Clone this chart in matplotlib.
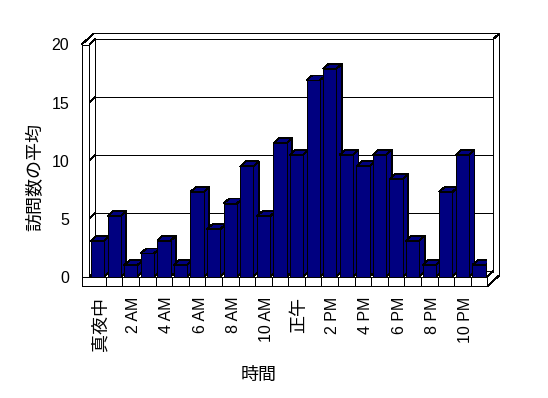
import matplotlib
matplotlib.use('Agg')
import matplotlib.pyplot as plt
from matplotlib.patches import Polygon, Rectangle
from matplotlib.transforms import ScaledTranslation
import numpy as np

# average visits per hour (0:00 .. 23:00)
visits = [3.1, 5.2, 1.0, 2.0, 3.1, 1.0, 7.3, 4.1, 6.3, 9.5, 5.2, 11.5,
          10.5, 16.9, 17.9, 10.5, 9.5, 10.5, 8.4, 3.1, 1.0, 7.3, 10.5, 1.0]
tick_labels = ['真夜中', '2 AM', '4 AM', '6 AM', '8 AM', '10 AM',
               '正午', '2 PM', '4 PM', '6 PM', '8 PM', '10 PM']
y_ticks = [0, 5, 10, 15, 20]

NAVY = '#000080'
LW = 0.6
D_IN = (6, 5.5)     # depth of inner back wall, pixels
D_OUT = (12, 11)    # depth of outer back wall
D_BAR = (5.5, 5)    # depth of the bars
WALL = 0.46         # left wall thickness, data units
FLOOR = 0.83        # floor thickness, data units

plt.rcParams['font.family'] = ['Liberation Sans', 'Noto Sans CJK JP']
plt.rcParams['lines.antialiased'] = False
plt.rcParams['patch.antialiased'] = False

fig = plt.figure(figsize=(5.48, 3.98), dpi=100)
ax = fig.add_axes([89.3 / 548, 121.3 / 398, 398 / 548, 232.2 / 398])
n = len(visits)
ax.set_xlim(0, n)
ax.set_ylim(0, 20)
for s in ax.spines.values():
    s.set_visible(False)


def shifted(x, y, d):
    px = ax.transData.transform((x, y)) + np.array(d)
    return tuple(ax.transData.inverted().transform(px))


def line(p, q, z=1):
    ax.plot([p[0], q[0]], [p[1], q[1]], color='black', lw=LW,
            zorder=z, clip_on=False, solid_capstyle='butt')


# back wall: gridlines and edges
for v in y_ticks:
    line(shifted(0, v, D_IN), shifted(n, v, D_IN))
line(shifted(0, 0, D_IN), shifted(0, 20, D_IN))
line(shifted(n, 0, D_IN), shifted(n, 20, D_IN))
line(shifted(-WALL, 20, D_OUT), shifted(n, 20, D_OUT))
line(shifted(n, -FLOOR, D_OUT), shifted(n, 20, D_OUT))
line(shifted(n, 20, D_IN), shifted(n, 20, D_OUT))
line(shifted(n, 0, D_IN), (n, 0))
line(shifted(n, -FLOOR, D_OUT), (n, -FLOOR))
line((-WALL, 20), shifted(-WALL, 20, D_OUT))
line((0, 20), shifted(0, 20, D_IN))

# left wall ticks
for v in y_ticks:
    line((-WALL, v), (0, v), z=2)
    line((0, v), shifted(0, v, D_IN), z=2)

# left wall and floor front faces
ax.add_patch(Rectangle((-WALL, -FLOOR), WALL, 20 + FLOOR, facecolor='white',
                       edgecolor='black', lw=LW, zorder=2, clip_on=False))
ax.add_patch(Rectangle((-WALL, -FLOOR), n + WALL, FLOOR, facecolor='white',
                       edgecolor='black', lw=LW, zorder=2, clip_on=False))
for i in range(1, n):
    line((i, -FLOOR), (i, 0), z=2.5)
line((-WALL, 0), (0, 0), z=2.5)

# bars with top and side faces
x = np.arange(n) + 0.1
bars = ax.bar(x, visits, width=0.8, align='edge', color=NAVY,
              edgecolor='black', lw=LW)
for i, b in enumerate(bars):
    x0, w, h = b.get_x(), b.get_width(), b.get_height()
    z = 3 + i * 0.01
    b.set_zorder(z + 0.005)
    top = [(x0, h), (x0 + w, h), shifted(x0 + w, h, D_BAR), shifted(x0, h, D_BAR)]
    side = [(x0 + w, 0), shifted(x0 + w, 0, D_BAR), shifted(x0 + w, h, D_BAR), (x0 + w, h)]
    for pts in (top, side):
        ax.add_patch(Polygon(pts, closed=True, facecolor=NAVY, edgecolor='black',
                             lw=LW, zorder=z))

# ticks and labels
ax.set_yticks(y_ticks)
ax.set_xticks(np.arange(0, n, 2) + 0.5)
ax.set_xticklabels(tick_labels)
ax.tick_params(axis='y', length=0, pad=14.4, labelsize=11.5)
ax.tick_params(axis='x', length=0, pad=14.4, labelsize=11.5, rotation=90)
for lab in ax.get_xticklabels():
    lab.set_transform(lab.get_transform() + ScaledTranslation(0.03, 0, fig.dpi_scale_trans))
    if lab.get_text() in ('真夜中', '正午'):
        lab.set_fontsize(13)

ax.set_ylabel('訪問数の平均', fontsize=13)
ax.yaxis.set_label_coords(-0.134, 0.43)
ax.yaxis.label.set_va('center')
ax.set_xlabel('時間', fontsize=13)
ax.xaxis.set_label_coords(0.426, -0.4255)
ax.xaxis.label.set_va('center')

fig.savefig('out.png', dpi=100)
